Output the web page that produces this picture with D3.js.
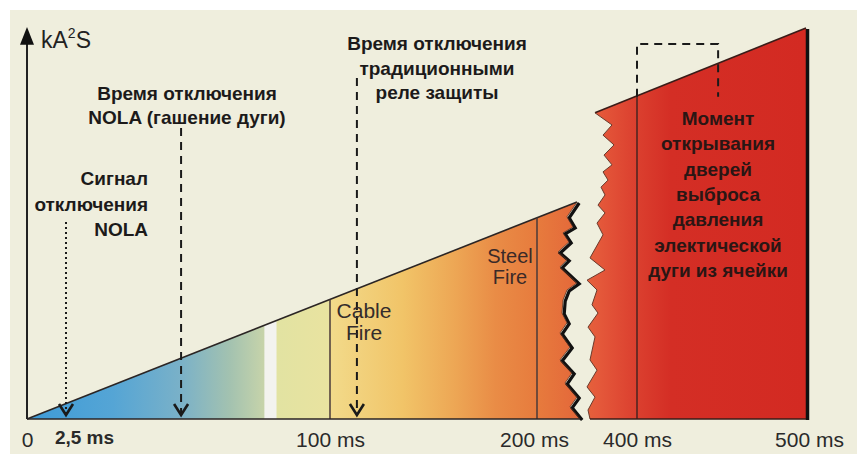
<!DOCTYPE html>
<html><head><meta charset="utf-8">
<script src="https://cdn.jsdelivr.net/npm/d3@7"></script>
<style>
html,body{margin:0;padding:0;background:#fff;}
svg{display:block;font-family:"Liberation Sans",Arial,sans-serif;}
</style></head>
<body><svg id="c" width="864" height="454"></svg>
<script>
// ---- data (time in ms, energy in % of axis height) ----
const tickTimes  = [0, 2.5, 100, 200, 400, 500];
const tickLabels = ["0", "2,5 ms", "100 ms", "200 ms", "400 ms", "500 ms"];
const energyStart = [0, 0];          // origin of the rising curve
const energyBreakTop = [280, 55.5];  // where the left part is torn off
const energyResume = [316, 78.3];    // where the right part resumes
const energyEnd = [500, 100];
const phaseLines = [100, 200, 400];  // cable fire, steel fire, door opening
const arrowTimes = [2.5, 45, 113];
const arrowTops  = [50.4, 74.4, 87.2];
const arrowStyles = ["dot", "dash", "dash"];
const doorBoxTime = [400, 448];
const doorBoxEnergy = [82.4, 95.9];
// torn edges of the break (ms, energy)
const tearLeft = [[280,55.5],[260,51.7],[272,49.1],[252,47.6],[264,45.3],[242,42.7],[260,40.7],[246,38.9],[280,34.8],[260,33.0],[252,30.4],[250,27.1],[260,24.6],[246,22.0],[266,18.4],[246,15.1],[270,11.8],[256,9.2],[280,5.6],[266,3.1],[286,0]];
const tearRight = [[316,78.3],[350,75.2],[332,72.6],[354,70.1],[334,67.5],[350,65.0],[332,63.2],[342,61.1],[328,59.3],[336,57.3],[322,54.7],[336,52.7],[320,50.1],[332,47.1],[306,41.2],[336,38.1],[300,35.5],[320,33.0],[310,29.2],[322,27.1],[302,23.5],[316,21.0],[306,15.1],[320,12.5],[300,8.2],[316,5.6],[302,2.3],[306,0]];
// colour along time axis
const colorTimes  = [0, 20, 45, 63, 75.5, 76, 80, 80.5, 99.5, 100.5, 135, 160, 180, 200, 280, 320, 390, 420, 500];
const colorValues = ["#3d9bd8","#55a5d5","#7ab1c8","#a3c2b0","#c6d3aa","#f3f3ef","#f3f3ef","#e2e3a2","#e9e3a0","#f2da8a","#f1c468","#eda755","#e98c46","#e77b3d","#e4683a","#e55a3b","#dc4230","#d42e25","#d32a22"];
const zoneLabels = [{lines:["Cable","Fire"], t:118}, {lines:["Steel","Fire"], t:146}];
const noteNolaSignal = ["Сигнал","отключения","NOLA"];
const noteNolaTrip = ["Время отключения","NOLA (гашение дуги)"];
const noteRelay = ["Время отключения","традиционными","реле защиты"];
const noteDoor = ["Момент","открывания","дверей","выброса","давления","электической","дуги из ячейки"];

// ---- scales ----
const x = d3.scaleLinear().domain(tickTimes).range([27, 66, 330, 537, 637, 806]);
const y = d3.scaleLinear().domain([0, 100]).range([419, 28]);
const svg = d3.select("#c");

svg.append("rect").attr("x",10).attr("y",10).attr("width",847).attr("height",444).attr("fill","#efeedd");

const defs = svg.append("defs");
const grad = defs.append("linearGradient").attr("id","heat").attr("gradientUnits","userSpaceOnUse")
  .attr("x1", x(0)).attr("x2", x(500)).attr("y1",0).attr("y2",0);
colorTimes.forEach((t,i)=>grad.append("stop").attr("offset",(x(t)-x(0))/(x(500)-x(0))).attr("stop-color",colorValues[i]));

const px = d => [x(d[0]), y(d[1])];
const lineGen = d3.line().x(d=>x(d[0])).y(d=>y(d[1]));

// left (torn) area
const leftPoly = [energyStart].concat(tearLeft);
svg.append("path").attr("d", lineGen(leftPoly)+"Z").attr("fill","url(#heat)");
// right area
const rightPoly = [energyResume, energyEnd, [500,0]].concat(tearRight.slice().reverse());
svg.append("path").attr("d", lineGen(rightPoly)+"Z").attr("fill","url(#heat)");

// top edges
svg.append("path").attr("d", lineGen([energyStart, energyBreakTop])).attr("stroke","#2b2524").attr("stroke-width",1.6).attr("fill","none");
svg.append("path").attr("d", lineGen([energyResume, energyEnd])).attr("stroke","#3a1c18").attr("stroke-width",1.6).attr("fill","none");

// torn edges
svg.append("path").attr("d", lineGen(tearLeft)).attr("transform","translate(2.2,1)")
  .attr("stroke","#111").attr("stroke-width",3.2).attr("fill","none").attr("stroke-linejoin","miter");
svg.append("path").attr("d", lineGen(tearLeft)).attr("stroke","#5a3020").attr("stroke-width",0.8).attr("fill","none");
svg.append("path").attr("d", lineGen(tearRight)).attr("stroke","#6a3a2c").attr("stroke-width",1).attr("fill","none");

// energy on the edge at a given time (in pixel space)
function edgeY(t){
  const a = t < energyResume[0] ? [energyStart, energyBreakTop] : [energyResume, energyEnd];
  const p0 = px(a[0]), p1 = px(a[1]);
  return p0[1] + (x(t)-p0[0])/(p1[0]-p0[0])*(p1[1]-p0[1]);
}
phaseLines.forEach(t=>{
  svg.append("line").attr("x1",x(t)).attr("x2",x(t)).attr("y1",edgeY(t)).attr("y2",y(0))
    .attr("stroke", t<300 ? "#4a3a38" : "#4a2420").attr("stroke-width",1.5);
});

// right thick edge
svg.append("line").attr("x1",x(500)+1.5).attr("x2",x(500)+1.5).attr("y1",y(100)+1).attr("y2",y(0)+1)
  .attr("stroke","#111").attr("stroke-width",3.5);

// baselines
svg.append("line").attr("x1",x(0)).attr("x2",x(286)).attr("y1",y(0)).attr("y2",y(0)).attr("stroke","#2b2524").attr("stroke-width",1.6);
svg.append("line").attr("x1",x(306)).attr("x2",x(500)).attr("y1",y(0)).attr("y2",y(0)).attr("stroke","#3a1c18").attr("stroke-width",1.6);

// y axis with arrow
svg.append("line").attr("x1",x(0)).attr("x2",x(0)).attr("y1",y(0)).attr("y2",y(96)).attr("stroke","#222").attr("stroke-width",2);
svg.append("path").attr("d",`M${x(0)},${y(100)-1} L${x(0)-7},${y(96)+1} L${x(0)+7},${y(96)+1} Z`).attr("fill","#111");
const yl = svg.append("text").attr("x",41).attr("y",48).attr("font-size",23).attr("fill","#222");
yl.append("tspan").text("kA");
yl.append("tspan").text("2").attr("font-size",14).attr("dy",-10);
yl.append("tspan").text("S").attr("dy",10);

// x axis labels
const xa = svg.append("g").attr("transform",`translate(0,${y(0)})`)
  .call(d3.axisBottom(x).tickValues(tickTimes).tickSize(0).tickFormat((d,i)=>tickLabels[i]));
xa.select(".domain").remove();
xa.selectAll("text").attr("font-family","Liberation Sans, Arial, sans-serif")
  .attr("fill","#2a2a2a").attr("dy","1.18em")
  .attr("font-weight",(d,i)=>i===1?"bold":"normal").attr("font-size",(d,i)=>i===1?19:21)
  .attr("dx",(d,i)=>i===1?18:(i===3?-3:(i===5?3:0)));

// arrows
arrowTimes.forEach((t,i)=>{
  const xx = x(t);
  svg.append("line").attr("x1",xx).attr("x2",xx).attr("y1",y(arrowTops[i])).attr("y2",y(0)-4)
    .attr("stroke","#1a1a1a").attr("stroke-width",2)
    .attr("stroke-dasharray", arrowStyles[i]==="dot" ? "2,3" : "8,6");
  svg.append("path").attr("d",`M${xx-7},${y(0)-15} L${xx},${y(0)-4} L${xx+7},${y(0)-15}`)
    .attr("stroke","#1a1a1a").attr("stroke-width",2.6).attr("fill","none");
});
// door box
svg.append("path").attr("d",`M${x(doorBoxTime[0])},${y(doorBoxEnergy[0])} V${y(doorBoxEnergy[1])} H${x(doorBoxTime[1])} V${y(doorBoxEnergy[0])}`)
  .attr("stroke","#1a1a1a").attr("stroke-width",2).attr("fill","none").attr("stroke-dasharray","8,6");

// text helpers
function block(lines, cx, y0, lh, anchor, opts){
  const t = svg.append("text").attr("text-anchor",anchor).attr("font-size",opts.size)
    .attr("font-weight",opts.weight).attr("fill",opts.fill);
  lines.forEach((s,i)=>t.append("tspan").attr("x",cx).attr("y",y0+i*lh).text(s));
  return t;
}
const bold = {size:19, weight:"bold", fill:"#1c1a1a"};
block(noteNolaTrip, 187, 100, 23.5, "middle", bold);
block(noteNolaSignal, 148, 185, 25.5, "end", bold);
block(noteRelay, 437, 50, 24.5, "middle", bold);
block(noteDoor, 718, 125, 25.3, "middle", {size:19, weight:"bold", fill:"#2a1614"});
block(zoneLabels[0].lines, 364, 318, 22, "middle", {size:21, weight:"normal", fill:"#342c2c"});
block(zoneLabels[1].lines, 510, 263, 21, "middle", {size:20, weight:"normal", fill:"#3a2a28"});
</script></body></html>
